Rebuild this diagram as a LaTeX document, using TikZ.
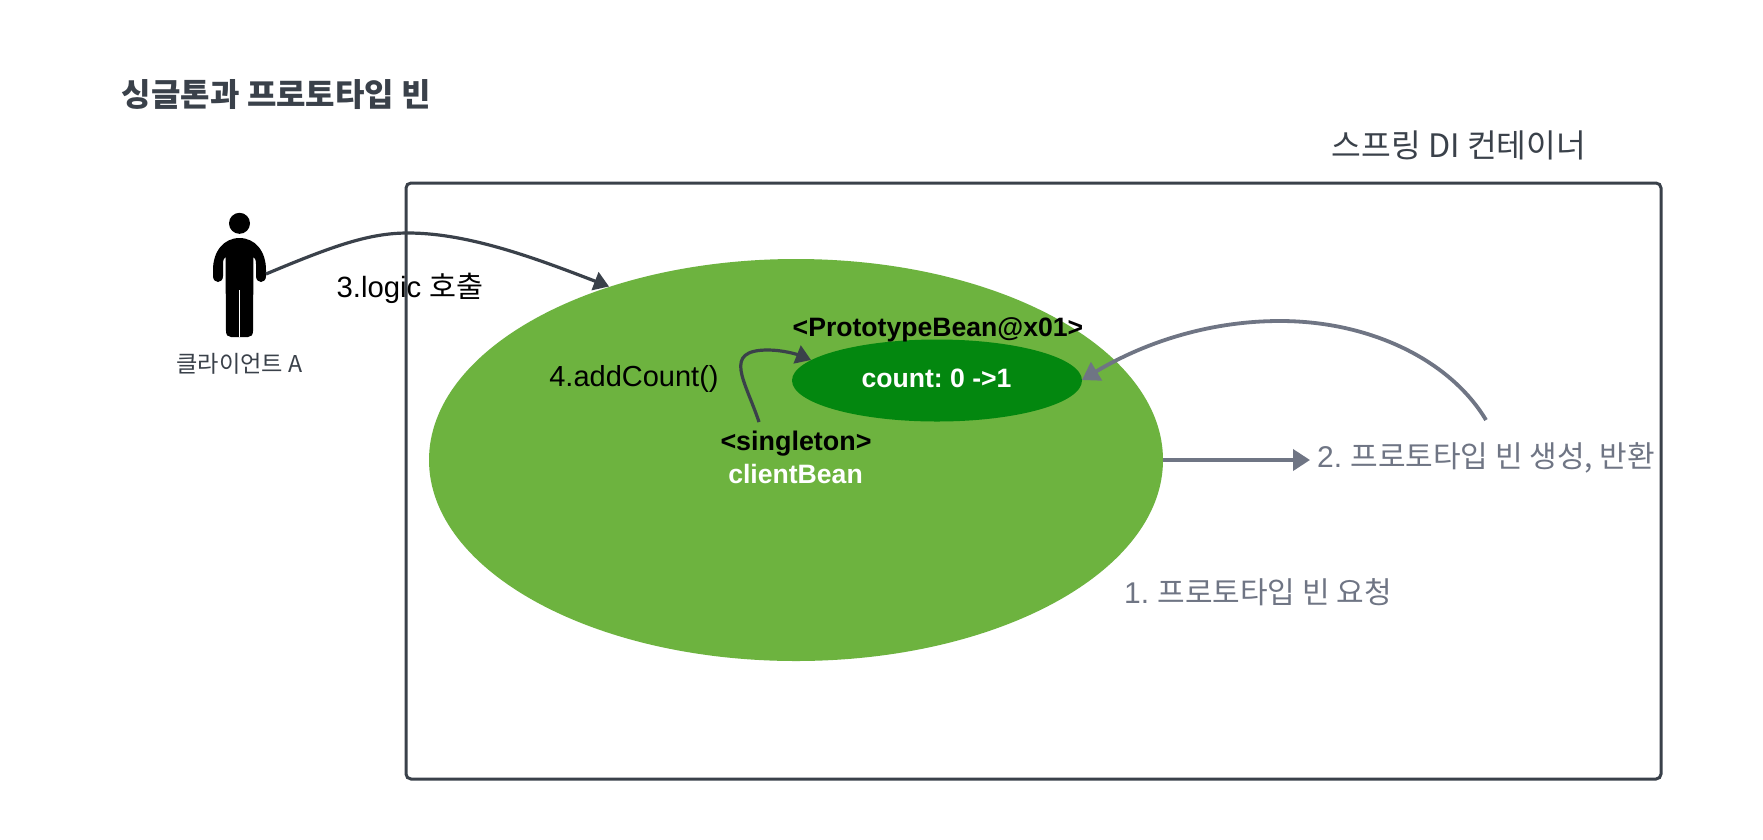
\documentclass[tikz,border=0pt]{standalone}
\usepackage{fontspec}
\setmainfont{Liberation Sans}
\newfontfamily\krf{Noto Sans CJK KR}
\usetikzlibrary{arrows.meta,shapes.geometric}
\definecolor{ink}{HTML}{3A414A}
\definecolor{slate}{HTML}{6F7584}
\definecolor{leaf}{HTML}{6DB33F}
\definecolor{deep}{HTML}{03870F}
\frenchspacing
\tikzset{
  lab/.style={inner sep=0pt,outer sep=0pt,anchor=center,align=center},
  headink/.style={-{Triangle[length=15pt,width=19pt]}},
  flow/.style={draw=ink,line width=3.2pt,headink},
  back/.style={draw=slate,line width=3.8pt,-{Triangle[length=17pt,width=21pt]}},
}
\begin{document}
\begin{tikzpicture}[x=1pt,y=-1pt]
\useasboundingbox[fill=white] (0,0) rectangle (1763,839);
\node[lab,text=ink,font=\krf\bfseries\fontsize{32}{38}\selectfont] (title) at (276.5,95) {싱글톤과 프로토타입 빈};
\node[lab,text=ink,font=\krf\fontsize{32.3}{38}\selectfont] (dilabel) at (1459,145) {스프링 DI 컨테이너};
\node[draw=ink,line width=3pt,rounded corners=5pt,minimum width=1255pt,minimum height=596pt,inner sep=0pt] (frame) at (1033.5,481) {};
\node[ellipse,fill=leaf,minimum width=734pt,minimum height=402pt,inner sep=0pt] (outer) at (796,460) {};
\node[ellipse,fill=deep,minimum width=290pt,minimum height=82pt,inner sep=0pt] (inner) at (937,380.5) {};
% person
\fill[black] (239.5,223.3) circle [radius=10.5];
\fill[black] (239.5,238) .. controls (255,238) and (266,251) .. (266,270) -- (266,276)
  .. controls (266,284) and (256,284) .. (256,276) -- (256,264)
  .. controls (256,260) and (255,258) .. (253.5,257) -- (253,331)
  .. controls (253,335) and (251,337) .. (248,337) -- (231,337)
  .. controls (228,337) and (226,335) .. (226,331) -- (225.5,257)
  .. controls (224,258) and (223,260) .. (223,264) -- (223,276)
  .. controls (223,284) and (213,284) .. (213,276) -- (213,270)
  .. controls (213,251) and (224,238) .. (239.5,238) -- cycle;
\draw[white,line width=1.2pt] (239.5,290) -- (239.5,337);
\node[lab,text=ink,font=\krf\fontsize{23.2}{28}\selectfont] (client) at (239.5,364) {클라이언트 A};
% labels
\node[lab,font=\fontsize{29.3}{34}\selectfont] (call) at (410,288) {3.logic {\krf 호출}};
\node[lab,font=\fontsize{29}{34}\selectfont] (add) at (634,379) {4.addCount()};
\node[lab,font=\bfseries\fontsize{26.6}{31}\selectfont] (proto) at (938,330) {<PrototypeBean@x01>};
\node[lab,font=\bfseries\fontsize{26.9}{31}\selectfont] (single) at (796,444) {<singleton>};
\node[lab,text=white,font=\bfseries\fontsize{26.6}{31}\selectfont] (bean) at (795.5,474) {clientBean};
\node[lab,text=white,font=\bfseries\fontsize{26.6}{30}\selectfont] (count) at (936.5,378) {count: 0 ->1};
\node[lab,text=slate,font=\fontsize{30}{35}\selectfont] (made) at (1486,458) {2. {\krf 프로토타입 빈 생성, 반환}};
\node[lab,text=slate,font=\fontsize{30}{35}\selectfont] (req) at (1258,592) {1. {\krf 프로토타입 빈 요청}};
% connectors
\coordinate (hand) at (266,274);
\coordinate (c3end) at (609,286.5);
\coordinate (c4start) at (759,422);
\coordinate (c4end) at (811,360);
\coordinate (c2start) at (1486,420);
\coordinate (c2end) at (1082,380);
\coordinate (c1start) at (1163,460);
\coordinate (c1end) at (1310,460);
\draw[flow] (hand) .. controls (335,245) and (370,233) .. (408,233) .. controls (470,233) and (540,260) .. (c3end);
\draw[flow] (c4start) .. controls (745,380) and (722,350) .. (768,350) .. controls (782,350) and (796,354) .. (c4end);
\draw[back] (c2start) .. controls (1450,360) and (1370,321) .. (1280,321) .. controls (1205,321) and (1140,345) .. (c2end);
\draw[back] (c1start) -- (c1end);
\end{tikzpicture}
\end{document}
